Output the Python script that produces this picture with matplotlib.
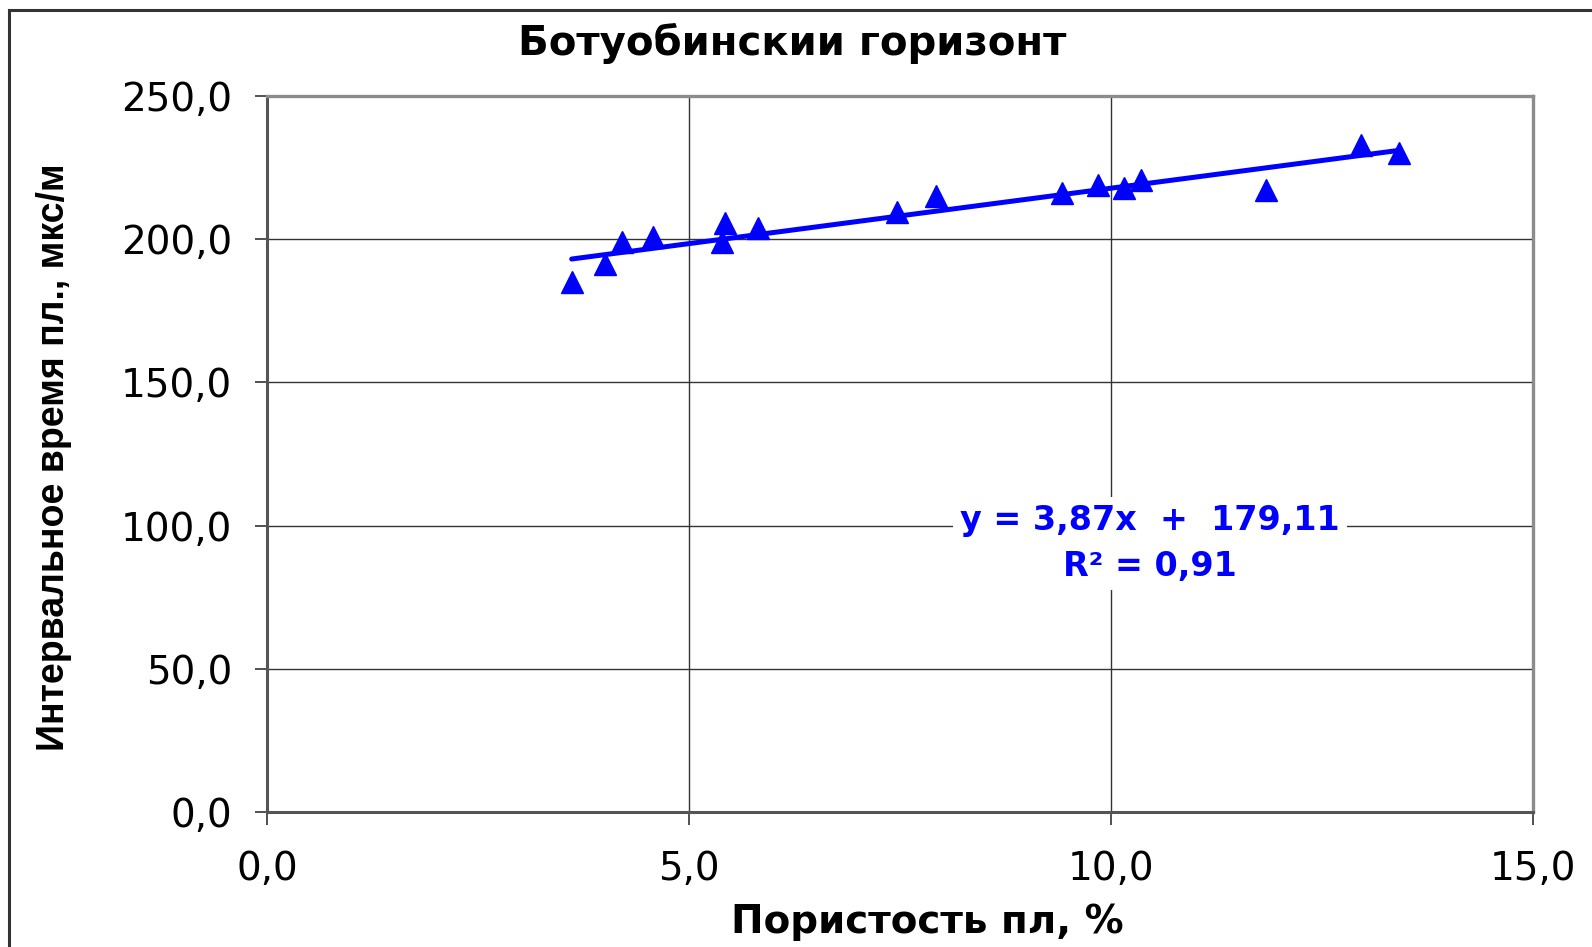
import numpy as np
import matplotlib
matplotlib.use("Agg")
import matplotlib.pyplot as plt
from matplotlib.lines import Line2D
from matplotlib.ticker import FuncFormatter, MultipleLocator

# porosity (%) vs interval transit time (us/m)
porosity = [3.61, 4.01, 4.21, 4.57, 5.43, 5.39, 5.82, 7.46,
            7.93, 9.42, 9.85, 10.15, 10.36, 11.84, 12.96, 13.41]
transit_time = [185.2, 191.2, 199.1, 200.6, 205.8, 199.1, 204.0, 209.6,
                215.2, 216.2, 218.8, 217.9, 220.7, 217.1, 232.9, 230.0]

# trendline as printed on the chart
slope, intercept = 3.87, 179.11
r2 = 0.91

title = "Ботуобински\u0438 горизонт"
xlabel = "Пористость пл, %"
ylabel = "Интервальное время пл., мкс/м"

W, H = 1592, 947
fig = plt.figure(figsize=(W / 100, H / 100), dpi=100)
fig.patch.set_facecolor("white")

# plot area in pixel terms of the reference
left, right, top, bottom = 267, 1533, 96, 812
ax = fig.add_axes([left / W, 1 - bottom / H, (right - left) / W, (bottom - top) / H])

blue = "#0000ff"
x = np.array(porosity)
xs = np.array([x.min(), x.max()])
ax.plot(xs, slope * xs + intercept, color=blue, lw=3.6, zorder=3, solid_capstyle="round")
ax.plot(porosity, transit_time, linestyle="none", marker="^", ms=16,
        color=blue, mec=blue, zorder=4)

ax.set_xlim(0, 15)
ax.set_ylim(0, 250)
ax.xaxis.set_major_locator(MultipleLocator(5))
ax.yaxis.set_major_locator(MultipleLocator(50))
comma = FuncFormatter(lambda v, pos: f"{v:.1f}".replace(".", ","))
ax.xaxis.set_major_formatter(comma)
ax.yaxis.set_major_formatter(comma)

ax.grid(True, color="#333333", lw=1.0, zorder=0)
ax.set_axisbelow(True)
for side in ["top", "right"]:
    ax.spines[side].set_color("#8c8c8c")
    ax.spines[side].set_linewidth(2.4)
for side in ["left", "bottom"]:
    ax.spines[side].set_color("#555555")
    ax.spines[side].set_linewidth(2.2)

ax.tick_params(axis="both", direction="out", length=9, width=1.2, color="#333333")
ax.tick_params(axis="y", pad=16)
ax.tick_params(axis="x", pad=18)
for lab in ax.get_xticklabels() + ax.get_yticklabels():
    lab.set_fontfamily("DejaVu Sans")
    lab.set_fontsize(28)

# equation box
ax.text((1150 - left) / (right - left), (bottom - 543) / (bottom - top),
        f"y = {slope:.2f}x  +  {intercept:.2f}".replace(".", ",") + "\n" +
        f"R² = {r2:.2f}".replace(".", ","),
        transform=ax.transAxes, ha="center", va="center", color=blue,
        fontsize=24, fontweight="bold", family="DejaVu Sans", linespacing=1.5,
        bbox=dict(facecolor="white", edgecolor="none", pad=5), zorder=5)

fig.text(792 / W, 1 - 43 / H, title, ha="center", va="center",
         fontsize=29, fontweight="bold", family="DejaVu Sans")
fig.text(927 / W, 1 - 922 / H, xlabel, ha="center", va="center",
         fontsize=28, fontweight="bold", family="DejaVu Sans")
fig.text(54 / W, 1 - 457 / H, ylabel, ha="center", va="center", rotation=90,
         fontsize=27, fontweight="bold", family=["Liberation Sans", "DejaVu Sans"])

# outer chart frame (only top and left edges are visible in the reference)
fig.add_artist(Line2D([9 / W, 1], [1 - 10 / H, 1 - 10 / H], color="#333333", lw=2.2))
fig.add_artist(Line2D([9 / W, 9 / W], [0, 1 - 10 / H], color="#333333", lw=2.2))

fig.savefig("out.png", dpi=100)
